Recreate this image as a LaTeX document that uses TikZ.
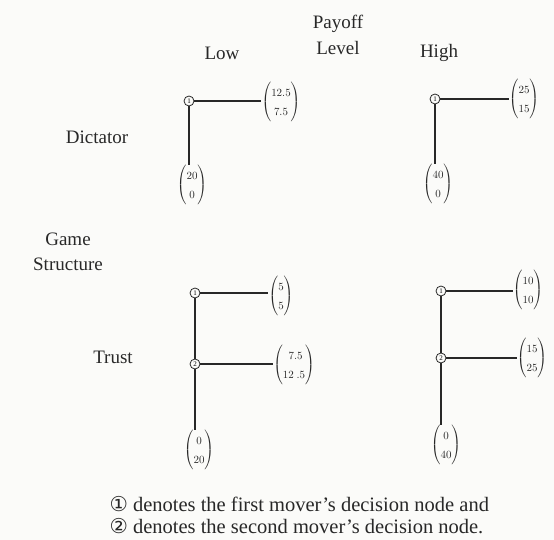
\documentclass[tikz,border=0pt]{standalone}
\usepackage{amsmath}
\usepackage{fontspec}
\setmainfont{Liberation Serif}
\newfontfamily\symfont{DejaVu Sans}
\usetikzlibrary{positioning}
\definecolor{paper}{RGB}{251,251,249}
\definecolor{ink}{RGB}{40,40,40}
\tikzset{
    dnode/.style={
        draw=ink, circle, inner sep=0pt, minimum size=10pt, line width=0.8pt,
        font=\fontsize{7}{8}\selectfont
    },
    pay/.style={inner sep=0pt, text=ink, font=\fontsize{11}{13}\selectfont},
    lbl/.style={text=ink, align=center, font=\fontsize{19}{26}\selectfont},
    br/.style={draw=ink, line width=1.2pt}
}
\newcommand{\payvec}[2] {
	{\renewcommand{\arraystretch}{1.5}$\begin{pmatrix}#1\\#2\end{pmatrix}$}
}
\newcommand{\branch}[2] {
	\draw[br] (#1) -- (#1 -| #2.west);
}
\newcommand{\stem}[2] {
	\draw[br] (#1) -- (#1 |- #2.north);
}

\begin{document}
\begin{tikzpicture}[x=1pt, y=-1pt]
		\fill[paper] (0,0) rectangle (554,540);
		\useasboundingbox (0,0) rectangle (554,540);

		% headings
		\node[lbl] (payoff) at (338,35) {Payoff\\Level};
		\node[lbl] (low) at (222,53) {Low};
		\node[lbl] (high) at (439,53) {High};
		\node[lbl] (dict) at (97,137) {Dictator};
		\node[lbl, font=\fontsize{19}{25}\selectfont] (game) at (68,252) {Game\\Structure};
		\node[lbl] (trust) at (113,357) {Trust};

		% Dictator, low
		\node[dnode] (dl1) at (189,101) {1};
		\node[pay] (dla) at (281,102) {\payvec{12.5}{7.5}};
		\node[pay] (dlb) at (192,185) {\payvec{20}{0}};
		\branch{dl1}{dla}
		\stem{dl1}{dlb}

		% Dictator, high
		\node[dnode] (dh1) at (435,99) {1};
		\node[pay] (dha) at (524,99) {\payvec{25}{15}};
		\node[pay] (dhb) at (438,184) {\payvec{40}{0}};
		\branch{dh1}{dha}
		\stem{dh1}{dhb}

		% Trust, low
		\node[dnode] (tl1) at (195,293) {1};
		\node[dnode] (tl2) at (195,364) {2};
		\node[pay] (tla) at (281,296) {\payvec{5}{5}};
		\node[pay] (tlb) at (294,365) {\payvec{\;7.5}{12\ .5}};
		\node[pay] (tlc) at (199,450) {\payvec{0}{20}};
		\branch{tl1}{tla}
		\branch{tl2}{tlb}
		\draw[br] (tl1) -- (tl2);
		\stem{tl2}{tlc}

		% Trust, high
		\node[dnode] (th1) at (441,291) {1};
		\node[dnode] (th2) at (441,358) {2};
		\node[pay] (tha) at (528,290) {\payvec{10}{10}};
		\node[pay] (thb) at (532,358) {\payvec{15}{25}};
		\node[pay] (thc) at (446,445) {\payvec{0}{40}};
		\branch{th1}{tha}
		\branch{th2}{thb}
		\draw[br] (th1) -- (th2);
		\stem{th2}{thc}

		% key
		\node[lbl, align=left, anchor=west, font=\fontsize{20.5}{22}\selectfont] (key) at (106,515)
			{{\symfont ①} denotes the first mover’s decision node and\\
			 {\symfont ②} denotes the second mover’s decision node.};
	\end{tikzpicture}
\end{document}
